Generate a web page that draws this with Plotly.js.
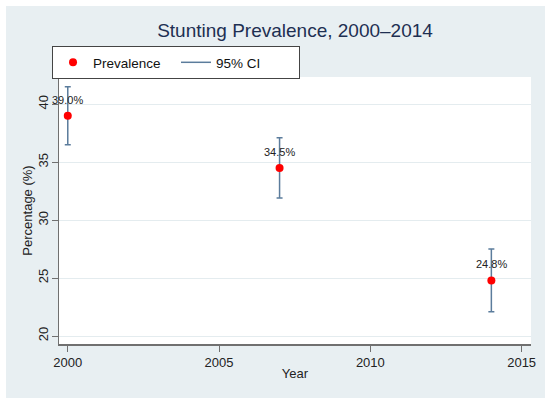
<!DOCTYPE html>
<html>
<head>
<meta charset="utf-8">
<script src="https://cdn.plot.ly/plotly-3.0.1.min.js"></script>
<style>
  html, body { margin: 0; padding: 0; background: #ffffff; }
  #chart { width: 550px; height: 404px; }
</style>
</head>
<body>
<div id="chart"></div>
<script>
// ---- data ----
const years = [2000, 2007, 2014];
const prevalence = [39.0, 34.5, 24.8];
const ciLower = [36.5, 31.9, 22.1];
const ciUpper = [41.5, 37.1, 27.5];
const pointLabels = ['39.0%', '34.5%', '24.8%'];
const xTicks = [2000, 2005, 2010, 2015];
const yTicks = [20, 25, 30, 35, 40];

const FONT = 'Liberation Sans, Arial, Helvetica, sans-serif';
const CI_COLOR = '#5b7c9c';

const errPlus = prevalence.map((v, i) => ciUpper[i] - v);
const errMinus = prevalence.map((v, i) => v - ciLower[i]);

const traces = [
  {
    type: 'scatter',
    mode: 'markers',
    name: 'Prevalence',
    x: years,
    y: prevalence,
    marker: { color: '#ff0000', size: 8 },
    error_y: {
      type: 'data',
      symmetric: false,
      array: errPlus,
      arrayminus: errMinus,
      color: CI_COLOR,
      thickness: 1.5,
      width: 3
    },
    cliponaxis: false,
    hoverinfo: 'x+y'
  },
  {
    type: 'scatter',
    mode: 'lines',
    name: '95% CI',
    x: [null],
    y: [null],
    line: { color: CI_COLOR, width: 1.5 },
    hoverinfo: 'skip'
  }
];

const labelAnnotations = years.map((yr, i) => ({
  x: yr,
  y: prevalence[i],
  xref: 'x',
  yref: 'y',
  text: pointLabels[i],
  showarrow: false,
  xanchor: 'center',
  yanchor: 'middle',
  yshift: 16,
  font: { family: FONT, size: 11, color: '#222222' }
}));

const layout = {
  width: 550,
  height: 404,
  margin: { l: 59, r: 19, t: 77, b: 60, pad: 0 },
  paper_bgcolor: '#ffffff',
  plot_bgcolor: '#ffffff',
  font: { family: FONT, size: 13, color: '#222222' },
  title: {
    text: 'Stunting Prevalence, 2000–2014',
    font: { family: FONT, size: 19, color: '#1e2f52' },
    xref: 'paper', x: 0.5, xanchor: 'center',
    yref: 'container', y: 0.925, yanchor: 'middle'
  },
  showlegend: true,
  legend: {
    orientation: 'h',
    x: -0.0148, xanchor: 'left',
    y: 1.116, yanchor: 'top',
    bgcolor: '#ffffff',
    bordercolor: '#444444',
    borderwidth: 1,
    font: { family: FONT, size: 13.5, color: '#111111' },
    entrywidth: 78
  },
  annotations: labelAnnotations,
  xaxis: {
    range: [1999.71, 2015.31],
    tickvals: xTicks,
    ticks: 'outside',
    ticklen: 6,
    tickcolor: '#707070',
    tickwidth: 1,
    showline: true,
    linecolor: '#707070',
    linewidth: 1.5,
    showgrid: false,
    zeroline: false,
    tickfont: { family: FONT, size: 13, color: '#222222' },
    title: { text: 'Year', font: { family: FONT, size: 13, color: '#222222' }, standoff: 0 }
  },
  yaxis: {
    range: [19.31, 42.35],
    tickvals: yTicks,
    tickangle: -90,
    ticks: 'outside',
    ticklen: 6,
    tickcolor: '#707070',
    tickwidth: 1,
    showline: true,
    linecolor: '#707070',
    linewidth: 1.5,
    showgrid: true,
    gridcolor: '#e4ecef',
    gridwidth: 1,
    zeroline: false,
    ticklabelstandoff: -2,
    tickfont: { family: FONT, size: 13, color: '#222222' },
    title: { text: 'Percentage (%)', font: { family: FONT, size: 13, color: '#222222' }, standoff: 0 }
  },
  shapes: [
    {
      type: 'rect', xref: 'paper', yref: 'paper', layer: 'below',
      x0: -0.11229, x1: 1.02966, y0: -0.20225, y1: 1.26592,
      fillcolor: '#e8eff2', line: { width: 0 }
    },
    {
      type: 'rect', xref: 'paper', yref: 'paper', layer: 'below',
      x0: 0, x1: 1, y0: 0, y1: 1,
      fillcolor: '#ffffff', line: { width: 0 }
    }
  ]
};

Plotly.newPlot('chart', traces, layout, { displayModeBar: false, staticPlot: true });
</script>
</body>
</html>
